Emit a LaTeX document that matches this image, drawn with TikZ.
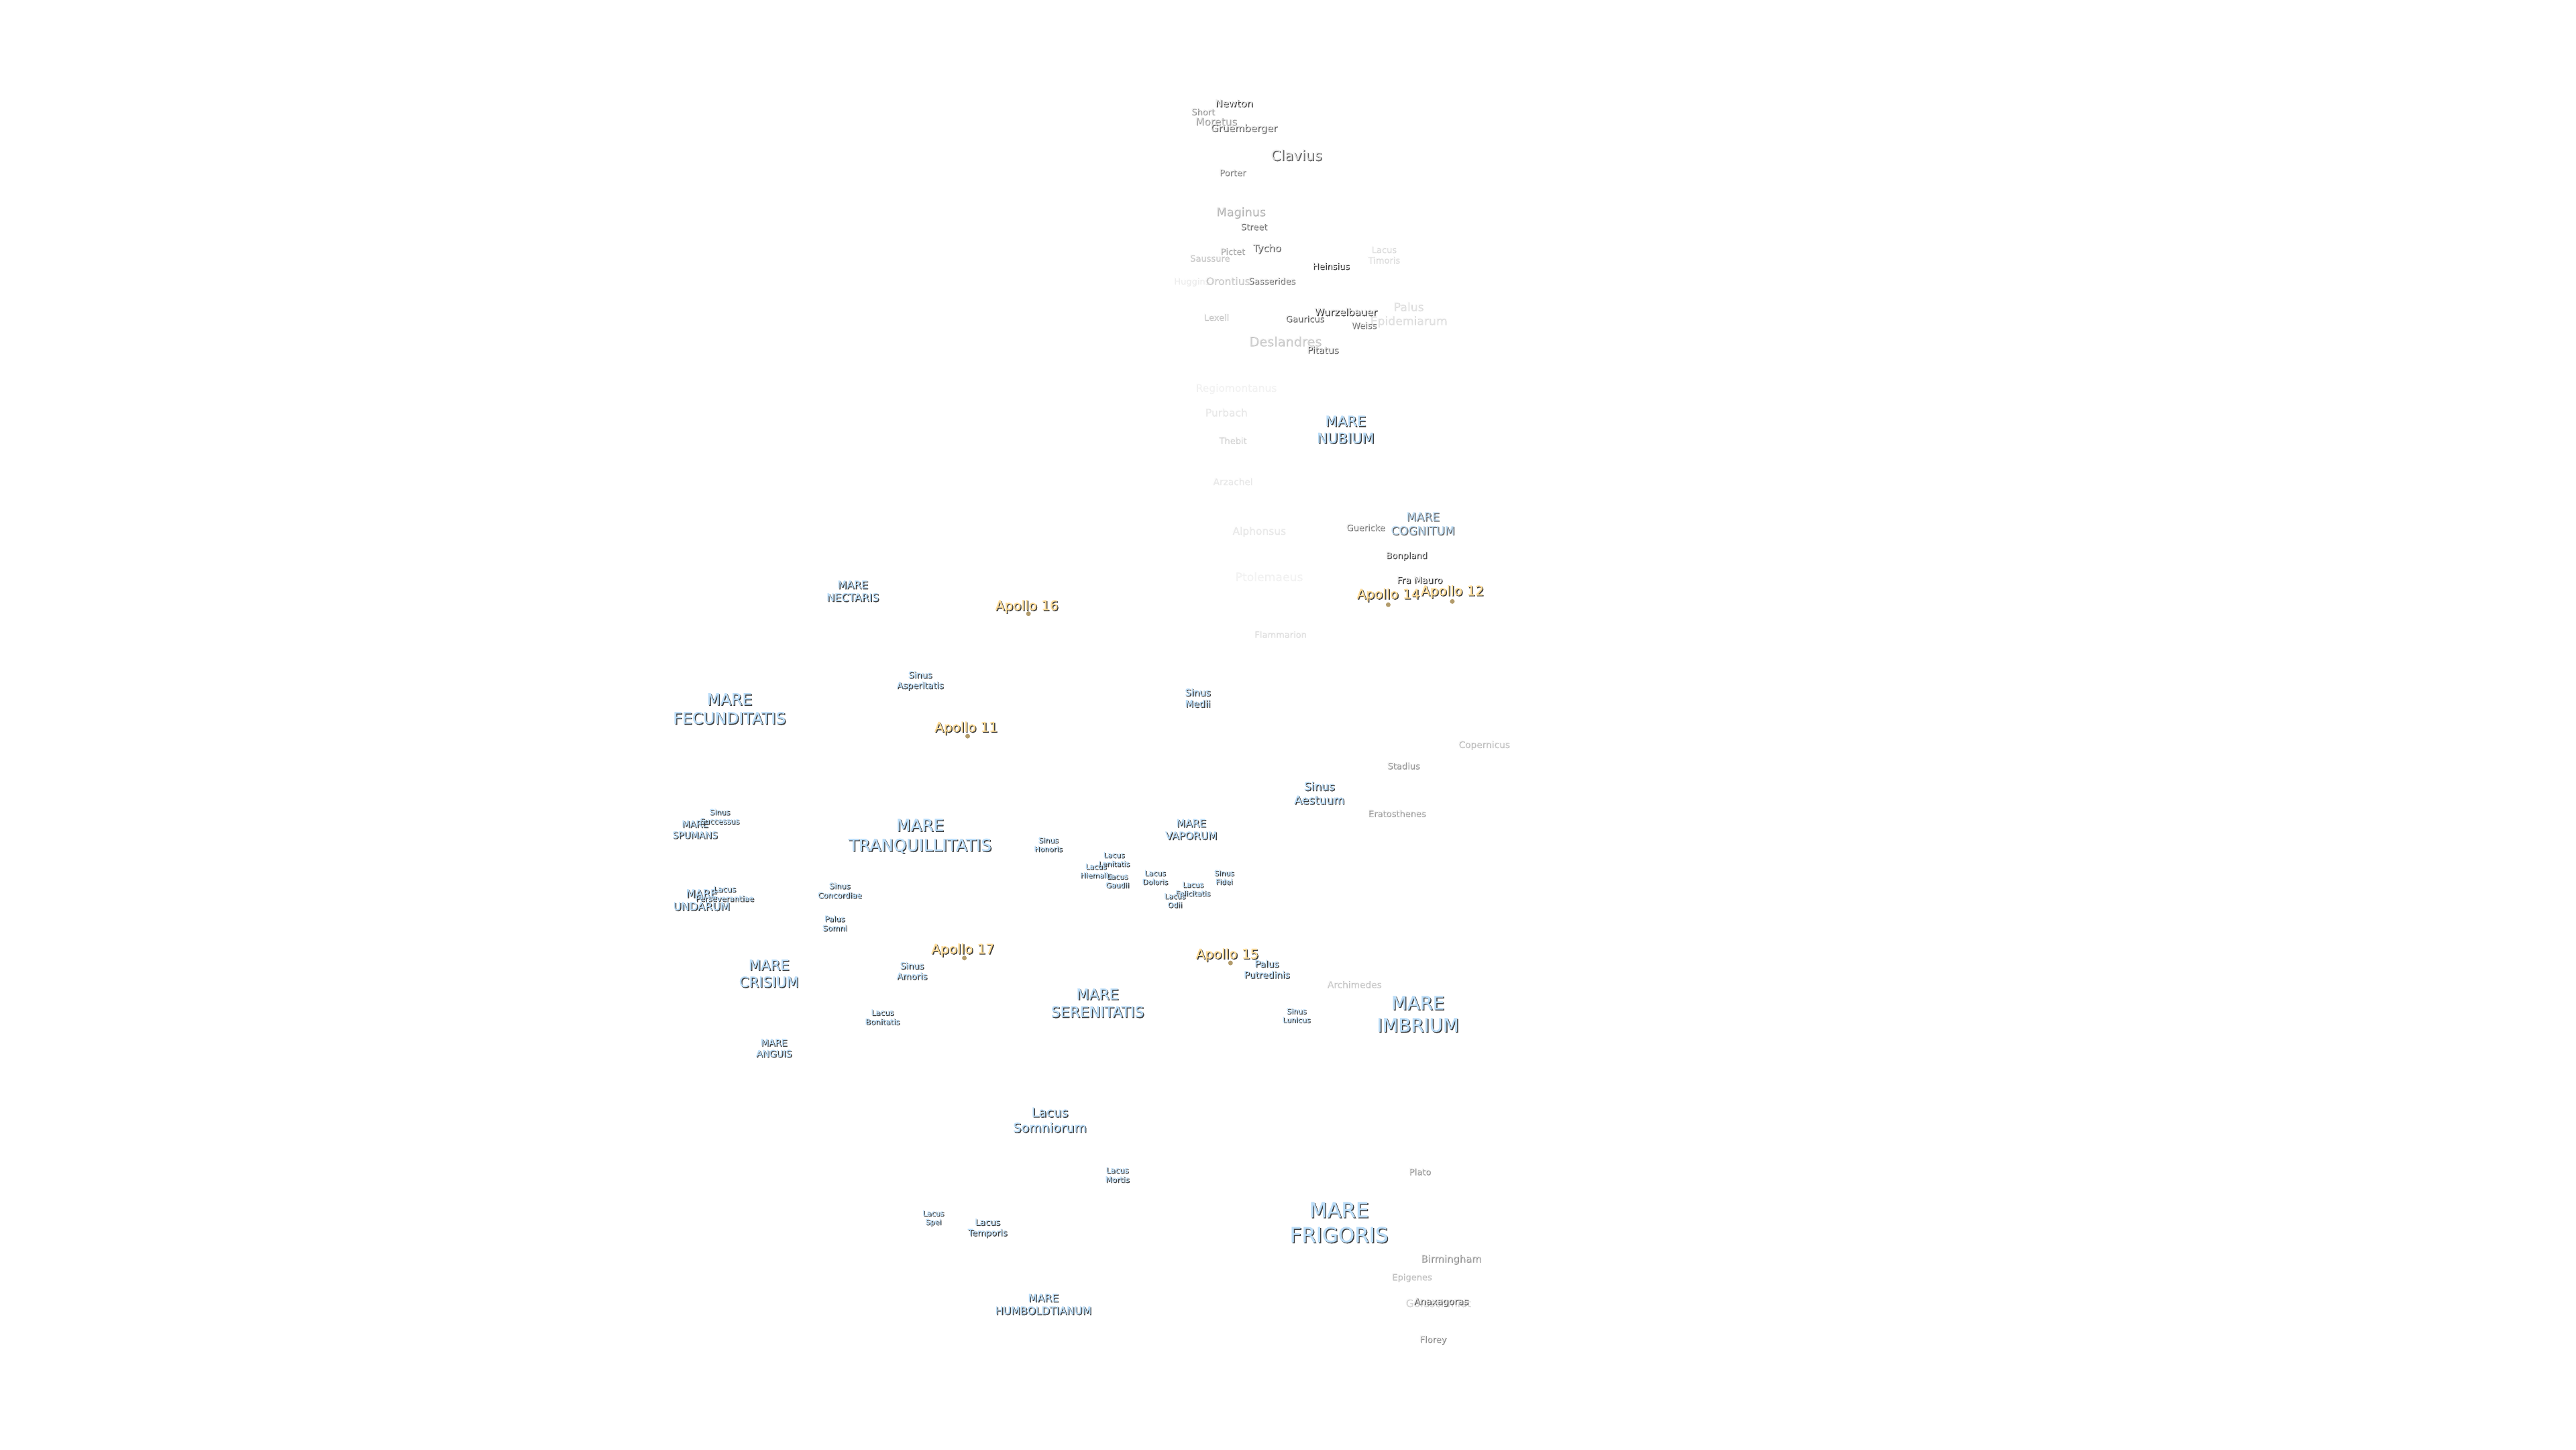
\documentclass[tikz,border=0pt]{standalone}
\usepackage{fontspec}
\usepackage{xfp}
\setmainfont{DejaVu Sans}[FakeBold=0.7]
\usetikzlibrary{positioning}
\definecolor{halo}{HTML}{3C3C3C}
\definecolor{marepale}{HTML}{BBDDF8}
\definecolor{apollotan}{HTML}{FFDD99}
\definecolor{craterpale}{HTML}{EDEDED}
\newcommand{\moonlines}[1]{\begin{tabular}{@{}c@{}}#1\end{tabular}}
% text with a small dark drop behind it
\newcommand{\moontext}[1]{\rlap{\kern.4pt\raisebox{-.4pt}{\textcolor{halo}{\moonlines{#1}}}}\moonlines{#1}}
\begin{document}
\begin{tikzpicture}[
		x=0.02449cm, y=-0.02449cm,
		every node/.style={inner sep=0pt, align=center},
		fs/.style={font=\fontsize{#1}{\fpeval{#1*1.2}}\selectfont, yshift=-0.4mm},
		mare/.style={text=marepale, fs=#1},
		crater/.style={text=craterpale, fs=#1},
		apollo/.style={text=apollotan, fs=5.7},
		site/.style={circle, fill=apollotan!70!black, minimum size=0.7mm}]
	\useasboundingbox (0,0) rectangle (1568,882);
	% craters, top part
	\path 	(751,62) 	node (newton) 	[crater=4.2] {\moontext{Newton}}
			(732,67) 	node (short) 	[crater=3.7, opacity=.5] {\moontext{Short}}
			(740,73) 	node (moretus) 	[crater=4.4, opacity=.45] {\moontext{Moretus}}
			(757,77) 	node (gruemb) 	[crater=4.2, opacity=.75] {\moontext{Gruemberger}}
			(789,94) 	node (clavius) 	[crater=6, opacity=.8] {\moontext{Clavius}}
			(750,104) 	node (porter) 	[crater=3.7, opacity=.6] {\moontext{Porter}}
			(755,128) 	node (maginus) 	[crater=5, opacity=.35] {\moontext{Maginus}}
			(763,137) 	node (street) 	[crater=3.7, opacity=.7] {\moontext{Street}}
			(771,150) 	node (tycho) 	[crater=4.2, opacity=.75] {\moontext{Tycho}}
			(750,152) 	node (pictet) 	[crater=3.7, opacity=.4] {\moontext{Pictet}}
			(736,156) 	node (saussure) [crater=3.7, opacity=.25] {\moontext{Saussure}}
			(810,161) 	node (heinsius) [crater=3.7] {\moontext{Heinsius}}
			(842,154) 	node (timoris) 	[crater=3.7, opacity=.15] {\moontext{Lacus\\Timoris}}
			(725,170) 	node (huggins) 	[crater=3.7, opacity=.08] {\moontext{Huggins}}
			(747,170) 	node (orontius) [crater=4.4, opacity=.25] {\moontext{Orontius}}
			(774,170) 	node (sasser) 	[crater=3.7, opacity=.7] {\moontext{Sasserides}}
			(740,192) 	node (lexell) 	[crater=3.7, opacity=.25] {\moontext{Lexell}}
			(819,189) 	node (wurzel) 	[crater=4.2] {\moontext{Wurzelbauer}}
			(794,193) 	node (gauricus) [crater=3.7, opacity=.75] {\moontext{Gauricus}}
			(830,197) 	node (weiss) 	[crater=3.7, opacity=.65] {\moontext{Weiss}}
			(857,190) 	node (epidem) 	[crater=4.9, opacity=.15] {\moontext{Palus\\Epidemiarum}}
			(782,207) 	node (desland) 	[crater=5.5, opacity=.25] {\moontext{Deslandres}}
			(805,212) 	node (pitatus) 	[crater=3.9, opacity=.8] {\moontext{Pitatus}}
			(752,235) 	node (regiom) 	[crater=4.4, opacity=.06] {\moontext{Regiomontanus}}
			(746,250) 	node (purbach) 	[crater=4.4, opacity=.1] {\moontext{Purbach}}
			(750,267) 	node (thebit) 	[crater=3.7, opacity=.2] {\moontext{Thebit}}
			(750,292) 	node (arzachel) [crater=3.9, opacity=.1] {\moontext{Arzachel}}
			(766,322) 	node (alphons) 	[crater=4.4, opacity=.1] {\moontext{Alphonsus}}
			(772,350) 	node (ptolem) 	[crater=4.9, opacity=.06] {\moontext{Ptolemaeus}}
			(779,385) 	node (flammar) 	[crater=3.7, opacity=.15] {\moontext{Flammarion}}
			(831,320) 	node (guericke) [crater=3.7, opacity=.65] {\moontext{Guericke}}
			(856,337) 	node (bonpland) [crater=3.7, opacity=.9] {\moontext{Bonpland}}
			(864,352) 	node (framauro) [crater=3.9] {\moontext{Fra Mauro}};
	% craters, lower part
	\path 	(903,452) 	node (copern) 	[crater=3.9, opacity=.3] {\moontext{Copernicus}}
			(854,465) 	node (stadius) [crater=3.7, opacity=.5] {\moontext{Stadius}}
			(850,494) 	node (eratos) 	[crater=3.7, opacity=.45] {\moontext{Eratosthenes}}
			(824,598) 	node (archim) 	[crater=3.9, opacity=.25] {\moontext{Archimedes}}
			(864,712) 	node (plato) 	[crater=3.7, opacity=.5] {\moontext{Plato}}
			(883,765) 	node (birming) [crater=4.2, opacity=.5] {\moontext{Birmingham}}
			(859,776) 	node (epigenes) [crater=3.7, opacity=.3] {\moontext{Epigenes}}
			(875,792) 	node (goldsch) 	[crater=4.4, opacity=.2] {\moontext{Goldschmidt}}
			(877,791) 	node (anaxag) 	[crater=3.9, opacity=.8] {\moontext{Anaxagoras}}
			(872,814) 	node (florey) 	[crater=3.7, opacity=.55] {\moontext{Florey}};
	% maria
	\path 	(819,261) 	node (nubium) 	[mare=6] {\moontext{MARE\\NUBIUM}}
			(866,318) 	node (cognitum) [mare=4.9, opacity=.75] {\moontext{MARE\\COGNITUM}}
			(519,359) 	node (nectaris) [mare=4.5] {\moontext{MARE\\NECTARIS}}
			(444,431) 	node (fecund) 	[mare=6.7] {\moontext{MARE\\FECUNDITATIS}}
			(423,504) 	node (spumans) [mare=3.9] {\moontext{MARE\\SPUMANS}}
			(560,508) 	node (tranq) 	[mare=7.05] {\moontext{MARE\\TRANQUILLITATIS}}
			(725,504) 	node (vaporum) [mare=4.4] {\moontext{MARE\\VAPORUM}}
			(427,547) 	node (undarum) [mare=4.6] {\moontext{MARE\\UNDARUM}}
			(468,592) 	node (crisium) [mare=6] {\moontext{MARE\\CRISIUM}}
			(668,610) 	node (serenit) [mare=6.25] {\moontext{MARE\\SERENITATIS}}
			(863,617) 	node (imbrium) [mare=7.85] {\moontext{MARE\\IMBRIUM}}
			(471,637) 	node (anguis) 	[mare=3.9] {\moontext{MARE\\ANGUIS}}
			(815,744) 	node (frigoris) [mare=8.8] {\moontext{MARE\\FRIGORIS}}
			(635,793) 	node (humbold) [mare=4.5] {\moontext{MARE\\HUMBOLDTIANUM}};
	% bays, lakes, marshes
	\path 	(560,413) 	node (asperit) [mare=3.7] {\moontext{Sinus\\Asperitatis}}
			(729,424) 	node (medii) 	[mare=4] {\moontext{Sinus\\Medii}}
			(803,482) 	node (aestuum) [mare=4.8] {\moontext{Sinus\\Aestuum}}
			(438,496) 	node (success) [mare=3.2] {\moontext{Sinus\\Successus}}
			(638,513) 	node (honoris) [mare=3.1] {\moontext{Sinus\\Honoris}}
			(678,522) 	node (lenitat) [mare=3.1] {\moontext{Lacus\\Lenitatis}}
			(667,529) 	node (hiemalis) [mare=3.1] {\moontext{Lacus\\Hiemalis}}
			(680,535) 	node (gaudii) 	[mare=3.1] {\moontext{Lacus\\Gaudii}}
			(703,533) 	node (doloris) [mare=3.1] {\moontext{Lacus\\Doloris}}
			(745,533) 	node (fidei) 	[mare=3.1] {\moontext{Sinus\\Fidei}}
			(726,540) 	node (felicit) [mare=3.1] {\moontext{Lacus\\Felicitatis}}
			(715,547) 	node (odii) 	[mare=3.1] {\moontext{Lacus\\Odii}}
			(511,541) 	node (concord) [mare=3.3] {\moontext{Sinus\\Concordiae}}
			(441,543) 	node (persev) 	[mare=3.3] {\moontext{Lacus\\Perseverantiae}}
			(508,561) 	node (somni) 	[mare=3.3] {\moontext{Palus\\Somni}}
			(771,589) 	node (putred) 	[mare=3.9] {\moontext{Palus\\Putredinis}}
			(555,590) 	node (amoris) 	[mare=3.7] {\moontext{Sinus\\Amoris}}
			(789,617) 	node (lunicus) [mare=3.1] {\moontext{Sinus\\Lunicus}}
			(537,618) 	node (bonitat) [mare=3.3] {\moontext{Lacus\\Bonitatis}}
			(639,681) 	node (somnior) [mare=5.4] {\moontext{Lacus\\Somniorum}}
			(680,714) 	node (mortis) 	[mare=3.3] {\moontext{Lacus\\Mortis}}
			(568,740) 	node (spei) 	[mare=3.1] {\moontext{Lacus\\Spei}}
			(601,746) 	node (tempor) 	[mare=3.7] {\moontext{Lacus\\Temporis}};
	% landing sites
	\path 	(625,368) 	node (ap16) 	[apollo] {\moontext{Apollo 16}}
			(588,442) 	node (ap11) 	[apollo] {\moontext{Apollo 11}}
			(586,577) 	node (ap17) 	[apollo] {\moontext{Apollo 17}}
			(747,580) 	node (ap15) 	[apollo] {\moontext{Apollo 15}}
			(845,361) 	node (ap14) 	[apollo] {\moontext{Apollo 14}}
			(884,359) 	node (ap12) 	[apollo] {\moontext{Apollo 12}}
			(626,373.5) node (s16) 	[site] {}
			(589,448) 	node (s11) 	[site] {}
			(587,583) 	node (s17) 	[site] {}
			(749,586) 	node (s15) 	[site] {}
			(845,368) 	node (s14) 	[site] {}
			(884,366) 	node (s12) 	[site] {};
\end{tikzpicture}
\end{document}
